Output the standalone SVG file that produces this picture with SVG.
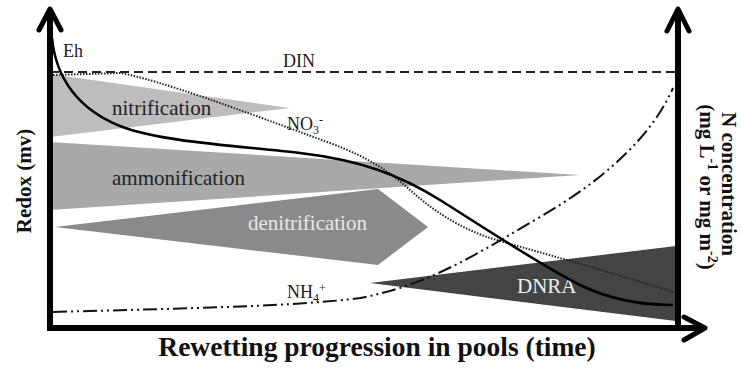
<svg xmlns="http://www.w3.org/2000/svg" width="742" height="370" viewBox="0 0 742 370">
<style>
.lbl{font-family:"Liberation Serif","Times New Roman",serif;font-size:21px;fill:#222}
.sm{font-family:"Liberation Serif","Times New Roman",serif;font-size:18px;fill:#222}
.ax{font-family:"Liberation Serif","Times New Roman",serif;font-weight:bold;fill:#111}
.axis{stroke:#000;stroke-width:6;fill:none}
.head{stroke:#000;stroke-width:5;fill:none;stroke-linecap:round;stroke-linejoin:round}
</style>
<rect width="742" height="370" fill="#fff"/>
<g id="ammonification">
<polygon points="50,142 580,175 50,210" fill="#a9a9a9"/>
<text class="lbl" x="112" y="185">ammonification</text>
</g>
<g id="nitrification">
<polygon points="50,74 290,108 50,137" fill="#bdbdbd"/>
<text class="lbl" x="112" y="115">nitrification</text>
</g>
<g id="denitrification">
<polygon points="55,227 378,189 428,227 378,265" fill="#8a8a8a"/>
<text class="lbl" x="248" y="230" style="fill:#e8e8e8">denitrification</text>
</g>
<g id="DNRA">
<polygon points="370,283 676,246 676,321" fill="#444"/>
<text class="lbl" x="517" y="293" style="fill:#f0f0f0">DNRA</text>
</g>
<g id="connectors">
<path id="DIN-line" d="M50,72 H678" stroke="#222" stroke-width="2" stroke-dasharray="9,5" fill="none"/>
<path id="NO3-line" d="M53,75 L120,73 C160,80 240,110 330,143 C370,158 390,172 410,190 C430,208 460,230 500,241 C560,258 620,275 673,292" stroke="#222" stroke-width="2" stroke-dasharray="1.5,1.5" fill="none"/>
<path id="NH4-line" d="M53,312 C200,308 300,306 360,298 C430,285 480,252 540,217 C600,182 650,140 673,88" stroke="#111" stroke-width="2" stroke-dasharray="14,4,2,4,2,4" fill="none"/>
<path id="Eh-line" d="M52,38 C56,80 80,110 120,126 C160,142 240,146 300,153 C360,160 400,175 440,200 C480,225 540,265 580,285 C615,302 650,305 673,305" stroke="#000" stroke-width="2.6" fill="none"/>
</g>
<g id="curve-labels">
<text class="sm" x="63" y="57">Eh</text>
<text class="sm" x="283" y="67">DIN</text>
<text class="sm" x="287" y="130">NO<tspan font-size="12" dy="4">3</tspan><tspan font-size="12" dy="-10">-</tspan></text>
<text class="sm" x="287" y="298">NH<tspan font-size="12" dy="4">4</tspan><tspan font-size="12" dy="-10">+</tspan></text>
</g>
<g id="axes">
<path class="axis" d="M50,10 V328 H702"/>
<path class="axis" d="M678,10 V328"/>
<polyline class="head" points="39,30 50,9 61,30"/>
<polyline class="head" points="667,31 678,9 689,31"/>
<polyline class="head" points="684,317 705,328 684,340"/>
</g>
<g id="axis-labels">
<text class="ax" font-size="27.5" x="377" y="356" text-anchor="middle">Rewetting progression in pools (time)</text>
<text class="ax" font-size="21" transform="translate(31,181) rotate(-90)" text-anchor="middle">Redox (mv)</text>
<text class="ax" font-size="21" transform="translate(722,184) rotate(90)" text-anchor="middle">N concentration</text>
<text class="ax" font-size="21" transform="translate(700,187) rotate(90)" text-anchor="middle">(mg L<tspan font-size="14" dy="-8">-1</tspan><tspan dy="8"> or mg m</tspan><tspan font-size="14" dy="-8">-2</tspan><tspan dy="8">)</tspan></text>
</g>
</svg>
